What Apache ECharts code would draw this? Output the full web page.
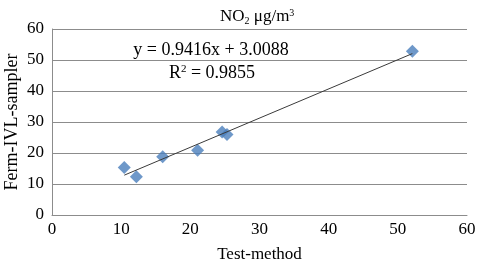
<!DOCTYPE html>
<html>
<head>
<meta charset="utf-8">
<script src="https://cdn.jsdelivr.net/npm/echarts@6/dist/echarts.min.js"></script>
<style>
  html, body { margin: 0; padding: 0; background: #fff; }
  #chart { width: 477px; height: 268px; }
</style>
</head>
<body>
<div id="chart"></div>
<script>
// Data
const testMethod = [10.45, 12.2, 16.0, 21.05, 24.6, 25.3, 52.1];
const fermSampler = [15.35, 12.35, 18.8, 20.9, 26.8, 26.0, 52.8];
const slope = 0.9416;
const intercept = 3.0088;
const rSquared = 0.9855;
const axisTicks = [0, 10, 20, 30, 40, 50, 60];

const points = testMethod.map((x, i) => [x, fermSampler[i]]);
const xMin = Math.min(...testMethod);
const xMax = Math.max(...testMethod);
const trend = [[xMin, slope * xMin + intercept], [xMax, slope * xMax + intercept]];

const chart = echarts.init(document.getElementById('chart'));
const font = '"Liberation Serif", "Times New Roman", serif';

chart.setOption({
    animation: false,
    textStyle: { fontFamily: font },
    title: {
        text: '{t|NO}{sub|2}{t| μg/m}{sup|3}',
        left: 215,
        top: 2,
        textStyle: {
            fontFamily: font,
            fontSize: 17,
            fontWeight: 'normal',
            color: '#000',
            rich: {
                t: { fontFamily: font, fontSize: 17, color: '#000' },
                sub: { fontFamily: font, fontSize: 10, padding: [9, 0, 0, 0], color: '#000' },
                sup: { fontFamily: font, fontSize: 10, padding: [0, 0, 7, 0], color: '#000' }
            }
        }
    },
    grid: { left: 52, right: 10, top: 29, bottom: 53, containLabel: false, outerBoundsMode: 'none' },
    xAxis: {
        type: 'value',
        min: axisTicks[0],
        max: axisTicks[axisTicks.length - 1],
        interval: 10,
        name: 'Test-method',
        nameLocation: 'middle',
        nameGap: 31,
        nameMoveOverlap: false,
        nameTextStyle: { fontFamily: font, fontSize: 17, color: '#000' },
        axisLine: { show: true, lineStyle: { color: '#8c8c8c', width: 1 } },
        axisTick: { show: false },
        axisLabel: { fontFamily: font, fontSize: 17, color: '#000', margin: 6 },
        splitLine: { show: false }
    },
    yAxis: {
        type: 'value',
        min: axisTicks[0],
        max: axisTicks[axisTicks.length - 1],
        interval: 10,
        name: 'Ferm-IVL-sampler',
        nameLocation: 'middle',
        nameGap: 31,
        nameMoveOverlap: false,
        nameTextStyle: { fontFamily: font, fontSize: 18, color: '#000' },
        axisLine: { show: true, lineStyle: { color: '#8c8c8c', width: 1 } },
        axisTick: { show: false },
        axisLabel: { fontFamily: font, fontSize: 17, color: '#000', margin: 8 },
        splitLine: { show: true, lineStyle: { color: '#8c8c8c', width: 1 } }
    },
    graphic: [
        {
            type: 'text',
            x: 211,
            y: 50,
            style: {
                text: 'y = 0.9416x + 3.0088',
                fontFamily: font,
                fontSize: 18,
                fill: '#000',
                align: 'center',
                verticalAlign: 'middle'
            }
        },
        {
            type: 'text',
            x: 212,
            y: 73,
            style: {
                text: '{t|R}{sup|2}{t| = ' + rSquared.toFixed(4) + '}',
                fontFamily: font,
                fontSize: 18,
                fill: '#000',
                align: 'center',
                verticalAlign: 'middle',
                rich: {
                    t: { fontFamily: font, fontSize: 18, fill: '#000' },
                    sup: { fontFamily: font, fontSize: 11, padding: [0, 0, 7, 0], fill: '#000' }
                }
            }
        }
    ],
    series: [
        {
            type: 'line',
            data: trend,
            symbol: 'none',
            silent: true,
            lineStyle: { color: '#3a3a3a', width: 1 },
            z: 3
        },
        {
            type: 'scatter',
            data: points,
            symbol: 'diamond',
            symbolSize: [13, 13],
            itemStyle: { color: '#4a7ebb' },
            z: 2
        }
    ]
});
</script>
</body>
</html>
